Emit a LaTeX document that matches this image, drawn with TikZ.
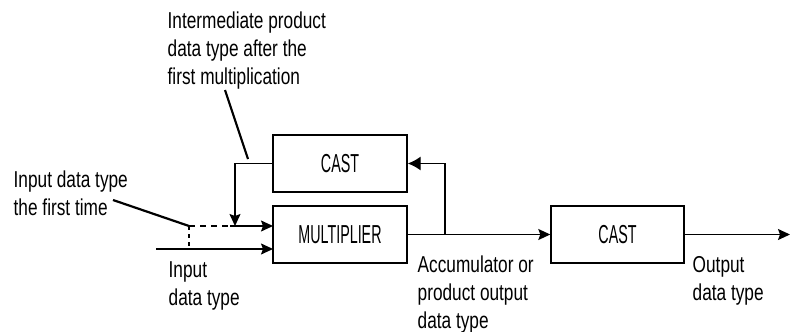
\documentclass[tikz,border=0pt]{standalone}
\usepackage{fontspec}
\setmainfont{Liberation Sans}[FakeStretch=0.75]
\newfontfamily\boxfont{Liberation Sans}[FakeStretch=0.55]
\usetikzlibrary{arrows.meta}
\begin{document}
\begin{tikzpicture}[x=1pt,y=-1pt, line width=1.4pt,
  blk/.style={draw, rectangle, minimum width=134pt, minimum height=57pt, inner sep=0pt,
    font=\boxfont\fontsize{26}{28}\selectfont},
  ann/.style={inner sep=0pt, anchor=north west, align=left,
    font=\fontsize{23}{28}\selectfont},
  arr/.style={-{Stealth[length=12pt,width=11pt,inset=2pt]}},
  bigarr/.style={-{Latex[length=13pt,width=14pt]}},
  ptr/.style={line width=2.2pt}]
\useasboundingbox (0,0) rectangle (790,332);

% blocks
\node[blk] (castA) at (340,163.5) {CAST};
\node[blk] (mult) at (340,234.5) {MULTIPLIER};
\node[blk, minimum width=133pt] (castB) at (617.5,234.5) {CAST};

% coordinates
\coordinate (br) at (445,234.5);
\coordinate (brtop) at (445,163.5);
\coordinate (fb) at (235,163.5);
\coordinate (fbend) at (235,226);
\coordinate (dstart) at (189,226);
\coordinate (dend) at (230,226);
\coordinate (inA) at (273,226);
\coordinate (inB) at (273,249);
\coordinate (instart) at (156,249);
\coordinate (indot) at (189,249);
\coordinate (outend) at (790,234.5);

% connectors
\draw[arr] (mult.east) -- (castB.west);
\draw[bigarr] (br) -- (brtop) -- (castA.east);
\draw[arr] (castA.west) -- (fb) -- (fbend);
\draw[dash pattern=on 6pt off 5pt] (dstart) -- (dend);
\draw[arr] (dend) -- (inA);
\draw[dash pattern=on 4pt off 4pt] (dstart) -- (indot);
\draw[arr] (instart) -- (inB);
\draw[arr] (castB.east) -- (outend);

% annotations
\node[ann] (t1) at (167,11) {Intermediate product\\data type after the\\first multiplication};
\node[ann] (t2) at (13,170) {Input data type\\the first time};
\node[ann] (t3) at (168,261) {Input\\data type};
\node[ann] (t4) at (417,255) {Accumulator or\\product output\\data type};
\node[ann] (t5) at (692,256) {Output\\data type};

\coordinate (p1a) at (225,90);
\coordinate (p1b) at (248,159);
\coordinate (p2a) at (113,200);
\draw[ptr] (p1a) -- (p1b);
\draw[ptr] (p2a) -- (dstart);
\end{tikzpicture}
\end{document}
